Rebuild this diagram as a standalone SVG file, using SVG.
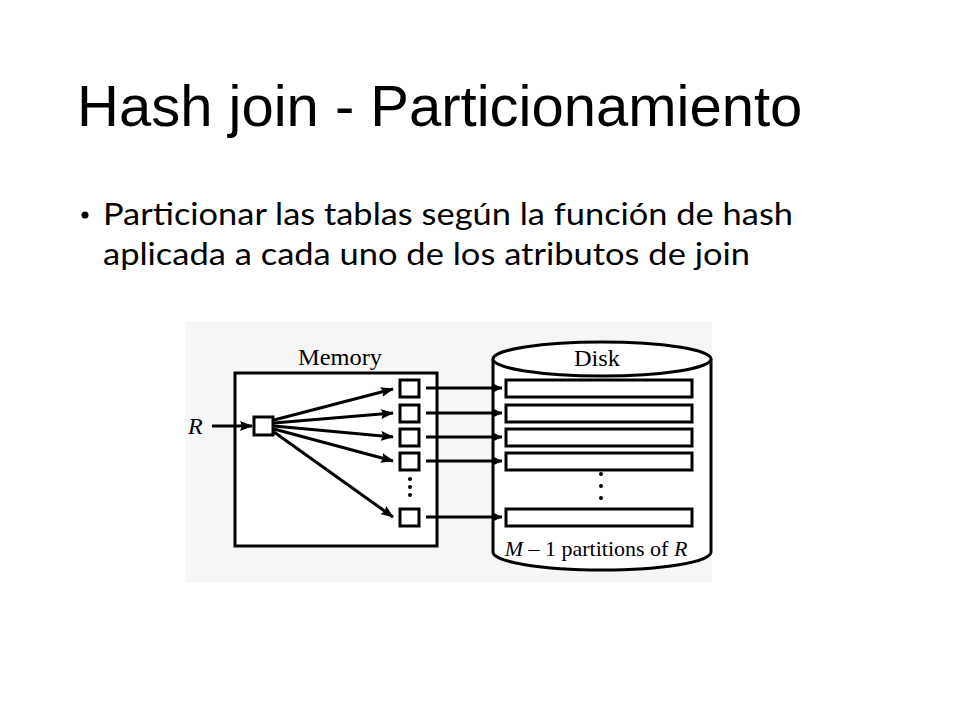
<svg xmlns="http://www.w3.org/2000/svg" width="960" height="720" viewBox="0 0 960 720">
  <defs>
    <style>
      .title { font-family: "Liberation Sans", Arial, sans-serif; font-size: 58px; fill: #000; }
      .bullet { font-family: Lato, "Noto Sans", sans-serif; font-size: 31px; fill: #000; }
      .serif { font-family: "Liberation Serif", "Times New Roman", serif; font-size: 24px; fill: #000; }
      .small { font-size: 22px; }
      .ital { font-style: italic; }
      .box { fill: #fff; stroke: #000; stroke-width: 3; }
      .wire { fill: none; stroke: #000; stroke-width: 3; }
    </style>
    <marker id="ah" viewBox="0 0 13 10" refX="12" refY="5" markerWidth="13" markerHeight="10" markerUnits="userSpaceOnUse" orient="auto">
      <path d="M0,0 L13,5 L0,10 L2,5 Z" fill="#000"/>
    </marker>
    <marker id="ahs" viewBox="0 0 8 8" refX="8" refY="4" markerWidth="8" markerHeight="8" markerUnits="userSpaceOnUse" orient="auto">
      <path d="M0,0 L8,4 L0,8 Z" fill="#000"/>
    </marker>
  </defs>

  <rect width="960" height="720" fill="#fff"/>

  <g id="title">
    <text class="title" x="77" y="126">Hash join - Particionamiento</text>
  </g>

  <g id="bullets">
    <circle cx="85" cy="215" r="3.5" fill="#000"/>
    <text class="bullet" x="103" y="225" textLength="690" lengthAdjust="spacingAndGlyphs">Particionar las tablas según la función de hash</text>
    <text class="bullet" x="103" y="265" textLength="647" lengthAdjust="spacingAndGlyphs">aplicada a cada uno de los atributos de join</text>
  </g>

  <g id="figure-bg">
    <rect x="185" y="322" width="527" height="260" fill="#f6f6f6"/>
  </g>

  <g id="memory">
    <rect class="box" x="235" y="373" width="202" height="173"/>
    <text class="serif" x="340" y="365" text-anchor="middle" textLength="84" lengthAdjust="spacingAndGlyphs">Memory</text>
  </g>

  <g id="disk">
    <path class="box" d="M493,359 L493,552 A109,18 0 0 0 711,552 L711,359"/>
    <ellipse class="box" cx="602" cy="359" rx="109" ry="17"/>
    <text class="serif" x="597" y="366" text-anchor="middle" textLength="46" lengthAdjust="spacingAndGlyphs">Disk</text>
    <text class="serif small" x="596" y="556" text-anchor="middle"><tspan class="ital">M</tspan> – 1 partitions of <tspan class="ital">R</tspan></text>
  </g>

  <g id="input-R">
    <text class="serif ital" x="188" y="434">R</text>
  </g>

  <g id="hash-buffer">
    <rect class="box" x="254" y="417" width="19" height="18"/>
  </g>

  <g id="buffers">
    <rect class="box" x="400" y="380" width="19" height="17"/>
    <rect class="box" x="400" y="405" width="19" height="17"/>
    <rect class="box" x="400" y="429" width="19" height="17"/>
    <rect class="box" x="400" y="453" width="19" height="17"/>
    <rect class="box" x="400" y="509" width="19" height="17"/>
    <circle cx="410" cy="479" r="2" fill="#000"/>
    <circle cx="410" cy="487" r="2" fill="#000"/>
    <circle cx="410" cy="495" r="2" fill="#000"/>
  </g>

  <g id="partitions">
    <rect class="box" x="506" y="380" width="186" height="17"/>
    <rect class="box" x="506" y="405" width="186" height="17"/>
    <rect class="box" x="506" y="429" width="186" height="17"/>
    <rect class="box" x="506" y="453" width="186" height="17"/>
    <rect class="box" x="506" y="509" width="186" height="17"/>
    <circle cx="601" cy="474" r="2" fill="#000"/>
    <circle cx="601" cy="486" r="2" fill="#000"/>
    <circle cx="601" cy="498" r="2" fill="#000"/>
  </g>

  <g id="connectors">
    <line class="wire" x1="212" y1="426" x2="252" y2="426" marker-end="url(#ah)"/>
    <line class="wire" x1="274" y1="420" x2="393" y2="389" marker-end="url(#ah)"/>
    <line class="wire" x1="274" y1="423" x2="393" y2="413" marker-end="url(#ah)"/>
    <line class="wire" x1="274" y1="426" x2="393" y2="437" marker-end="url(#ah)"/>
    <line class="wire" x1="274" y1="429" x2="393" y2="461" marker-end="url(#ah)"/>
    <line class="wire" x1="274" y1="432" x2="393" y2="517" marker-end="url(#ah)"/>
    <line class="wire" x1="426" y1="388" x2="502" y2="388" marker-end="url(#ahs)"/>
    <line class="wire" x1="426" y1="413" x2="502" y2="413" marker-end="url(#ahs)"/>
    <line class="wire" x1="426" y1="437" x2="502" y2="437" marker-end="url(#ahs)"/>
    <line class="wire" x1="426" y1="461" x2="502" y2="461" marker-end="url(#ahs)"/>
    <line class="wire" x1="426" y1="517" x2="502" y2="517" marker-end="url(#ahs)"/>
  </g>
</svg>
